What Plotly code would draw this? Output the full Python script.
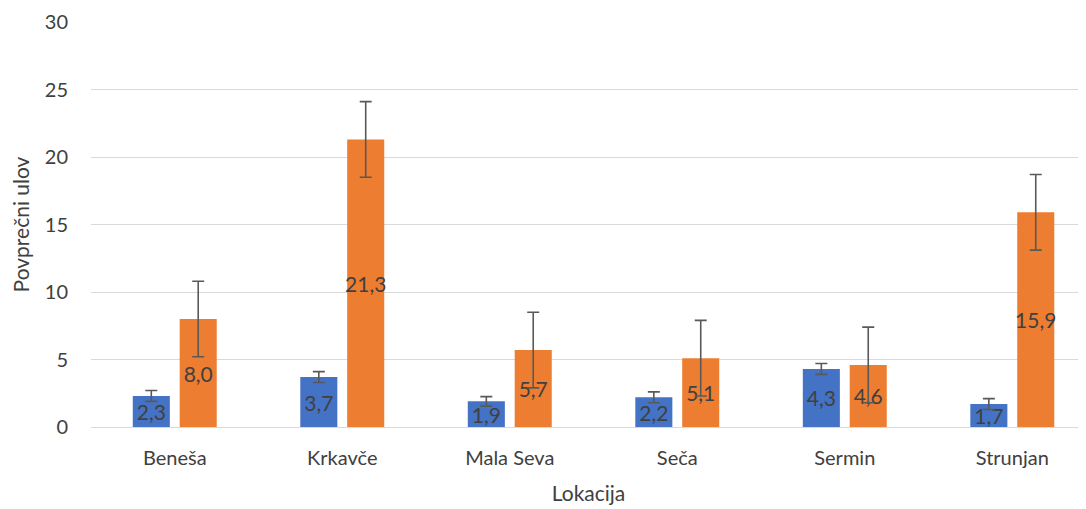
import plotly.graph_objects as go

categories = ["Beneša", "Krkavče", "Mala Seva", "Seča", "Sermin", "Strunjan"]
series_a = [2.3, 3.7, 1.9, 2.2, 4.3, 1.7]
series_b = [8.0, 21.3, 5.7, 5.1, 4.6, 15.9]
err_a = [0.4, 0.4, 0.35, 0.4, 0.4, 0.4]
err_b = [2.8, 2.8, 2.8, 2.8, 2.8, 2.8]
y_ticks = [0, 5, 10, 15, 20, 25, 30]

FONT = "Lato"
TXT = "#404040"

fig = go.Figure()
for vals, errs, color in [(series_a, err_a, "#4472C4"), (series_b, err_b, "#ED7D31")]:
    fig.add_trace(go.Bar(
        x=categories, y=vals, marker_color=color, marker_line_width=0,
        error_y=dict(type="data", array=errs, visible=True, color="#595959", thickness=1.6, width=6),
        texttemplate="%{y:.1f}", textposition="inside", insidetextanchor="middle",
        constraintext="none", textangle=0, cliponaxis=False,
        textfont=dict(family=FONT, size=21, color=TXT),
    ))

fig.update_layout(
    width=1078, height=501, separators=",.",
    barmode="group", bargap=0.44, bargroupgap=0.21,
    showlegend=False, plot_bgcolor="white", paper_bgcolor="white",
    margin=dict(l=83, r=0, t=14, b=82),
    font=dict(family=FONT, size=20, color=TXT),
    uniformtext=dict(mode=False),
)
fig.update_xaxes(
    range=[-0.5, 5.44], showgrid=False, showline=False, ticks="",
    tickfont=dict(size=20, color=TXT), ticklabelstandoff=17,
    title=dict(text="Lokacija", font=dict(size=21, color=TXT), standoff=18),
)
fig.update_yaxes(
    range=[0, 30], tickvals=y_ticks, gridcolor="#D9D9D9", gridwidth=1.3,
    zeroline=True, zerolinecolor="#D9D9D9", zerolinewidth=1.3,
    showline=False, ticks="", ticklabelstandoff=22,
    tickfont=dict(size=20, color=TXT),
    title=dict(text="Povprečni ulov", font=dict(size=21, color=TXT), standoff=14),
)
fig.write_html("out.html")
